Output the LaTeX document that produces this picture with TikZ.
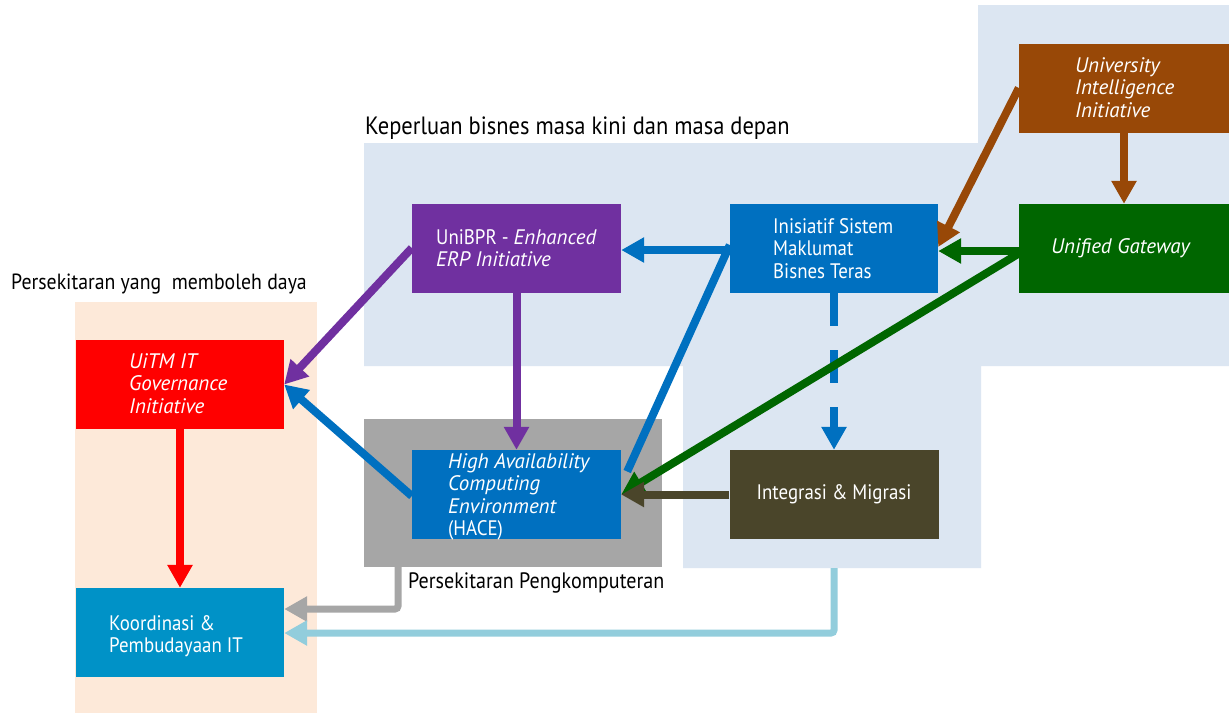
\documentclass[tikz,border=0pt]{standalone}
\usepackage{fontspec}
\setmainfont{PT Sans}[UprightFeatures={FakeStretch=0.9}]
\usetikzlibrary{arrows.meta}
\definecolor{bgblue}{HTML}{DCE6F2}
\definecolor{bgpeach}{HTML}{FDE9D9}
\definecolor{bggray}{HTML}{A6A6A6}
\definecolor{cpurple}{HTML}{7030A0}
\definecolor{cblue}{HTML}{0070C0}
\definecolor{cgreen}{HTML}{006600}
\definecolor{cbrown}{HTML}{984807}
\definecolor{cred}{HTML}{FF0000}
\definecolor{colive}{HTML}{4A452A}
\definecolor{ccyan}{HTML}{0092C7}
\definecolor{clight}{HTML}{92CDDC}
\begin{document}
\begin{tikzpicture}[x=1pt,y=-1pt,
  box/.style={rectangle, inner sep=0pt, minimum width=209pt, minimum height=89pt},
  lbl/.style={text=white, inner sep=0pt, align=left, anchor=base west,
              font=\fontsize{21}{22.5}\selectfont},
  hdr/.style={text=black, inner sep=0pt, anchor=base west},
  arr/.style={line width=8pt, -{Triangle[length=23pt,width=24pt]}},
  arrthin/.style={line width=7pt, rounded corners=3pt, -{Triangle[length=23pt,width=24pt]}}]
\useasboundingbox (0,0) rectangle (1229,713);
\fill[white] (0,0) rectangle (1229,713);

% background zones
\fill[bgblue] (364,143) -- (978,143) -- (978,5) -- (1229,5) -- (1229,366)
  -- (981,366) -- (981,568) -- (683,568) -- (683,366) -- (364,366) -- cycle;
\coordinate (bizbottom) at (834,568);
\fill[bgpeach] (75,302) rectangle (317,713);
\node[fill=bggray, inner sep=0pt, minimum width=298pt, minimum height=148pt] (comp) at (513,493) {};

% zone titles
\node[hdr, font=\fontsize{25}{28}\selectfont] (t-biz) at (365,134) {Keperluan bisnes masa kini dan masa depan};
\node[hdr, font=\fontsize{22}{26}\selectfont] (t-env) at (11,289) {Persekitaran yang \ memboleh daya};
\node[hdr, font=\fontsize{22.3}{26}\selectfont] (t-comp) at (408,588) {Persekitaran Pengkomputeran};

% initiative boxes
\node[box, fill=cpurple] (ubpr) at (516.5,248.5) {};
\node[box, fill=cblue, minimum width=208pt] (isb) at (834,248.5) {};
\node[box, fill=cgreen, minimum width=210pt] (ug) at (1124,248.5) {};
\node[box, fill=cbrown, minimum width=210pt] (uii) at (1124,88) {};
\node[box, fill=cred, minimum width=208pt] (gov) at (180,384.5) {};
\node[box, fill=cblue] (hace) at (516.5,494.5) {};
\node[box, fill=colive] (im) at (834,494.5) {};
\node[box, fill=ccyan, minimum width=208pt] (kpit) at (180,632.5) {};

% box texts (base anchor sits on the last line)
\node[lbl] (ubpr-t) at (436,266.5) {UniBPR - \textit{Enhanced}\\\textit{ERP Initiative}};
\node[lbl] (isb-t) at (773,278) {Inisiatif Sistem\\Maklumat\\Bisnes Teras};
\node[lbl, anchor=center] (ug-t) at (1121,248) {\textit{Unified Gateway}};
\node[lbl] (uii-t) at (1075,117) {\textit{University}\\\textit{Intelligence}\\\textit{Initiative}};
\node[lbl] (gov-t) at (129,413) {\textit{UiTM IT}\\\textit{Governance}\\\textit{Initiative}};
\node[lbl] (hace-t) at (448,535.5) {\textit{High Availability}\\\textit{Computing}\\\textit{Environment}\\(HACE)};
\node[lbl, anchor=center] (im-t) at (834,494) {Integrasi \& Migrasi};
\node[lbl] (kpit-t) at (109,652.5) {Koordinasi \&\\Pembudayaan IT};

% connectors
\draw[arr, cblue] ([yshift=-1.5pt]isb.west) -- ([yshift=-1.5pt]ubpr.east);
\draw[arr, cgreen] ([yshift=-2.5pt]ug.west) -- ([yshift=-2.5pt]isb.east);
\draw[arr, cbrown] (uii.south) -- (ug.north);
\draw[arr, cbrown] (uii.west) -- ([yshift=1.5pt]isb.east);
\draw[arr, cpurple] ([yshift=0.5pt]ubpr.west) -- (gov.east);
\draw[arr, cblue] ([yshift=-1.5pt]hace.west) -- (gov.east);
\draw[arr, cpurple] (ubpr.south) -- (hace.north);
\draw[line width=8pt, cblue] ([yshift=3.5pt]isb.west) -- ([xshift=6pt,yshift=23pt]hace.east);
\draw[arr, cblue, dash pattern=on 33pt off 24pt] (isb.south) -- (im.north);
\draw[arr, cgreen] ([yshift=-5pt]ug.west) -- (hace.east);
\draw[arr, colive] (im.west) -- (hace.east);
\draw[arr, cred] (gov.south) -- (kpit.north);
\draw[arrthin, bggray] ([xshift=-115pt]comp.south) |- ([yshift=23.5pt]kpit.east);
\draw[arrthin, clight] (bizbottom) |- ([yshift=-0.5pt]kpit.east);
\end{tikzpicture}
\end{document}
